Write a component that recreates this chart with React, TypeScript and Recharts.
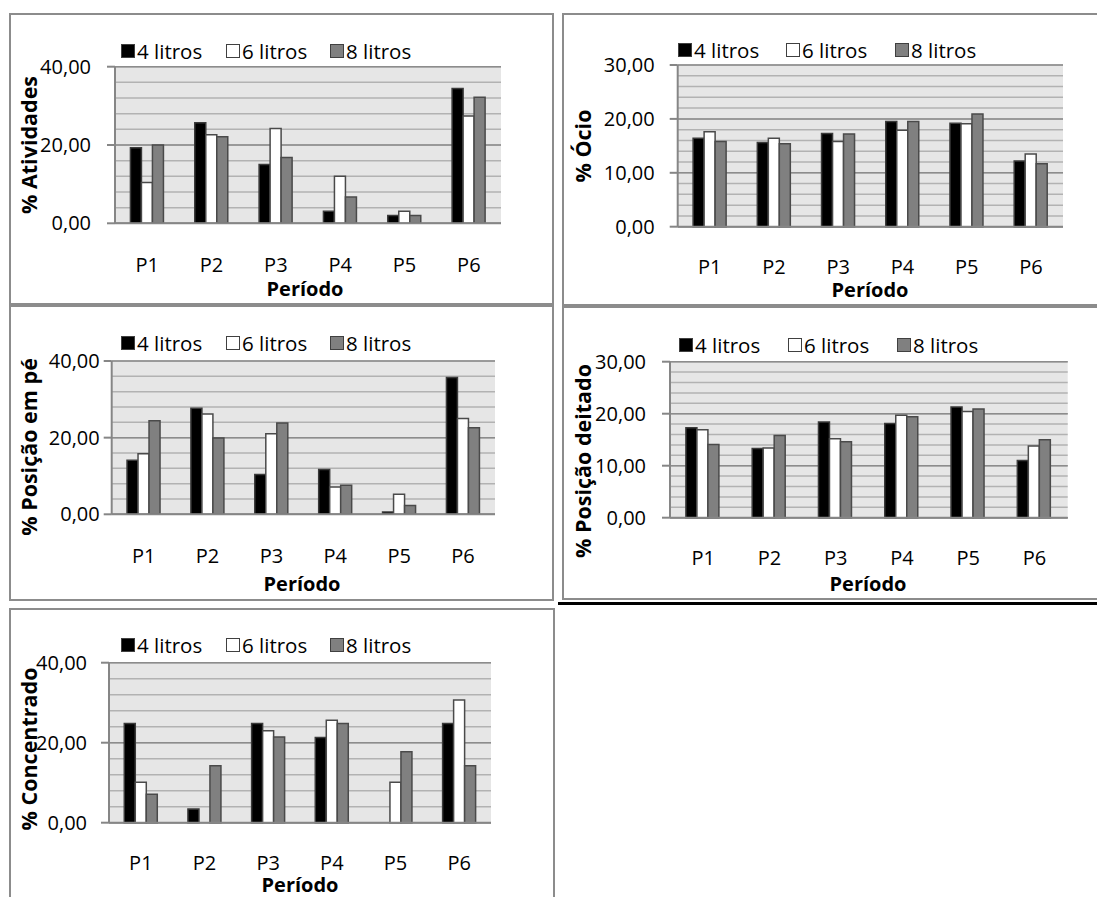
import React from 'react';
import { BarChart, Bar, XAxis, YAxis, CartesianGrid, Label } from 'recharts';

const categories = ['P1', 'P2', 'P3', 'P4', 'P5', 'P6'];
const seriesNames = ['4 litros', '6 litros', '8 litros'];
const seriesFills = ['#000000', '#ffffff', '#808080'];

const atividades4 = [19.3, 25.7, 15.0, 3.1, 2.0, 34.4];
const atividades6 = [10.4, 22.6, 24.2, 12.0, 3.1, 27.4];
const atividades8 = [20.0, 22.1, 16.8, 6.7, 2.0, 32.2];

const ocio4 = [16.4, 15.6, 17.3, 19.5, 19.2, 12.2];
const ocio6 = [17.6, 16.4, 15.8, 17.9, 19.1, 13.5];
const ocio8 = [15.8, 15.4, 17.2, 19.5, 20.9, 11.7];

const emPe4 = [14.1, 27.7, 10.4, 11.7, 0.6, 35.7];
const emPe6 = [15.8, 26.2, 21.0, 7.1, 5.2, 25.0];
const emPe8 = [24.4, 19.9, 23.8, 7.6, 2.3, 22.6];

const deitado4 = [17.3, 13.3, 18.4, 18.1, 21.3, 11.0];
const deitado6 = [16.9, 13.4, 15.2, 19.7, 20.4, 13.8];
const deitado8 = [14.1, 15.8, 14.6, 19.4, 20.9, 15.0];

const concentrado4 = [24.8, 3.4, 24.8, 21.3, 0, 24.8];
const concentrado6 = [10.1, 0, 23.0, 25.6, 10.1, 30.7];
const concentrado8 = [7.1, 14.25, 21.4, 24.8, 17.75, 14.25];

const ticks40 = [0, 20, 40];
const minor40 = [0, 4, 8, 12, 16, 20, 24, 28, 32, 36, 40];
const ticks30 = [0, 10, 20, 30];
const minor30 = [0, 2, 4, 6, 8, 10, 12, 14, 16, 18, 20, 22, 24, 26, 28, 30];

const FONT = "'Open Sans', 'Noto Sans', 'DejaVu Sans', sans-serif";

type Cfg = {
  title: string;
  s: number[][];
  max: number;
  ticks: number[];
  minor: number[];
  box: { x: number; y: number; w: number; h: number };
  plot: { l: number; t: number; r: number; b: number };
  legend: { x: number; y: number; offs: number[] };
  yLabel: { x: number; y: number };
  xTickY: number;
  periodo: { x: number; y: number };
  tickMargin: number;
};

const panels: Cfg[] = [
  {
    title: '% Atividades', s: [atividades4, atividades6, atividades8], max: 40, ticks: ticks40, minor: minor40,
    box: { x: 9, y: 13, w: 545, h: 292 }, plot: { l: 115, t: 66.7, r: 501, b: 223.3 },
    legend: { x: 121, y: 51, offs: [0, 105, 209] }, yLabel: { x: 28, y: 145 }, xTickY: 264, periodo: { x: 305, y: 288 }, tickMargin: 16,
  },
  {
    title: '% Ócio', s: [ocio4, ocio6, ocio8], max: 30, ticks: ticks30, minor: minor30,
    box: { x: 562, y: 13, w: 545, h: 293 }, plot: { l: 677.7, t: 65, r: 1063, b: 226.7 },
    legend: { x: 678, y: 50, offs: [0, 108, 217] }, yLabel: { x: 582, y: 146 }, xTickY: 266, periodo: { x: 870, y: 289 }, tickMargin: 15,
  },
  {
    title: '% Posição em pé', s: [emPe4, emPe6, emPe8], max: 40, ticks: ticks40, minor: minor40,
    box: { x: 9, y: 305, w: 545, h: 296 }, plot: { l: 111.7, t: 361, r: 495, b: 514.3 },
    legend: { x: 121, y: 343, offs: [0, 105, 209] }, yLabel: { x: 28, y: 447 }, xTickY: 555, periodo: { x: 302, y: 583 }, tickMargin: 4,
  },
  {
    title: '% Posição deitado', s: [deitado4, deitado6, deitado8], max: 30, ticks: ticks30, minor: minor30,
    box: { x: 562, y: 306, w: 545, h: 294 }, plot: { l: 670, t: 361.7, r: 1067.7, b: 517.7 },
    legend: { x: 679, y: 345, offs: [0, 109, 218] }, yLabel: { x: 582, y: 461 }, xTickY: 557, periodo: { x: 868, y: 583 }, tickMargin: 16,
  },
  {
    title: '% Concentrado', s: [concentrado4, concentrado6, concentrado8], max: 40, ticks: ticks40, minor: minor40,
    box: { x: 9, y: 608, w: 546, h: 300 }, plot: { l: 109, t: 662.7, r: 491, b: 822.7 },
    legend: { x: 121, y: 645, offs: [0, 105, 209] }, yLabel: { x: 28, y: 749 }, xTickY: 862, periodo: { x: 300, y: 884 }, tickMargin: 14,
  },
];

const fmt = (v: number) => v.toFixed(2).replace('.', ',');

function Panel({ cfg }: { cfg: Cfg }) {
  const { box, plot } = cfg;
  const data = categories.map((c, i) => ({ cat: c, a: cfg.s[0][i], b: cfg.s[1][i], c: cfg.s[2][i] }));
  const plotL = plot.l - box.x;
  const plotT = plot.t - box.y;
  const plotR = box.x + box.w - plot.r;
  const plotB = box.y + box.h - plot.b;
  const tickOff = cfg.xTickY - plot.b;
  const XTick = (props: any) => (
    <text x={props.x} y={props.y + tickOff} textAnchor="middle" dominantBaseline="central"
      fontFamily={FONT} fontSize={20} fill="#000">{props.payload.value}</text>
  );
  return (
    <div style={{ position: 'absolute', left: box.x, top: box.y, width: box.w, height: box.h }}>
      <div style={{ position: 'absolute', left: 0, top: 0, width: box.w, height: box.h, boxSizing: 'border-box', border: '2px solid #8c8c8c' }} />
      <BarChart width={box.w} height={box.h} data={data} margin={{ top: plotT, right: plotR, left: 0, bottom: 0 }}
        barGap={0} barCategoryGap="24%">
        <CartesianGrid vertical={false} horizontalValues={cfg.minor} stroke="#b2b2b2" strokeWidth={1.5} fill="#e6e6e6" fillOpacity={1} />
        <CartesianGrid vertical={false} horizontalValues={cfg.ticks} stroke="#8c8c8c" strokeWidth={1.5} />
        <XAxis dataKey="cat" height={plotB} tickLine={false} tickSize={0} tickMargin={0} interval={0}
          axisLine={{ stroke: '#868686', strokeWidth: 2 }} tick={XTick}>
          <Label content={() => (
            <text x={cfg.periodo.x - box.x} y={cfg.periodo.y - box.y} textAnchor="middle" dominantBaseline="central"
              fontFamily={FONT} fontSize={20} fontWeight="bold" fill="#000">Período</text>
          )} />
        </XAxis>
        <YAxis width={plotL} domain={[0, cfg.max]} ticks={cfg.ticks} interval={0} tickFormatter={fmt}
          tickSize={8} tickMargin={cfg.tickMargin}
          axisLine={{ stroke: '#868686', strokeWidth: 2 }} tickLine={{ stroke: '#868686', strokeWidth: 2 }}
          tick={{ fill: '#000', fontSize: 20, fontFamily: FONT }}>
          <Label content={() => {
            const lx = cfg.yLabel.x - box.x;
            const ly = cfg.yLabel.y - box.y;
            return (
              <text x={lx} y={ly} transform={`rotate(-90 ${lx} ${ly})`} textAnchor="middle" dominantBaseline="central"
                fontFamily={FONT} fontSize={21.5} fontWeight="bold" fill="#000">{cfg.title}</text>
            );
          }} />
        </YAxis>
        <Bar dataKey="a" name={seriesNames[0]} fill={seriesFills[0]} stroke="#3a3a3a" strokeWidth={1.5} isAnimationActive={false} />
        <Bar dataKey="b" name={seriesNames[1]} fill={seriesFills[1]} stroke="#4a4a4a" strokeWidth={1.5} isAnimationActive={false} />
        <Bar dataKey="c" name={seriesNames[2]} fill={seriesFills[2]} stroke="#4a4a4a" strokeWidth={1.5} isAnimationActive={false} />
      </BarChart>
      {seriesNames.map((n, i) => (
        <div key={n} style={{
          position: 'absolute', left: cfg.legend.x - box.x + cfg.legend.offs[i], top: cfg.legend.y - box.y - 14, height: 28,
          display: 'flex', alignItems: 'center', fontFamily: FONT, fontSize: 20.5, color: '#000', whiteSpace: 'nowrap',
        }}>
          <span style={{ display: 'inline-block', width: 12, height: 12, background: seriesFills[i], border: '1px solid #404040', marginRight: 2 }} />
          <span>{n}</span>
        </div>
      ))}
    </div>
  );
}

export default function App() {
  return (
    <div style={{ position: 'absolute', left: 0, top: 0, width: 1097, height: 897, overflow: 'hidden', background: '#fff' }}>
      {panels.map((p) => <Panel key={p.title} cfg={p} />)}
      <div style={{ position: 'absolute', left: 558, top: 602, width: 545, height: 3, background: '#000' }} />
    </div>
  );
}
